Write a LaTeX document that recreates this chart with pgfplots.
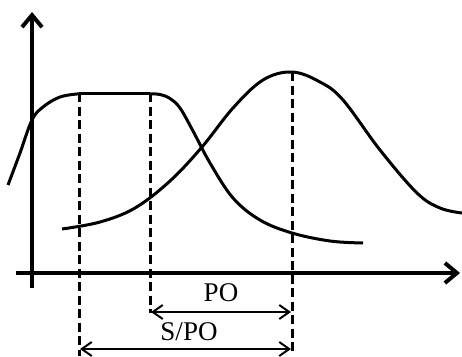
\documentclass[border=0pt]{standalone}
\usepackage{fontspec}
\setmainfont{Liberation Serif}
\usepackage{pgfplots}
\pgfplotsset{compat=1.18}
\usetikzlibrary{arrows.meta}
\begin{document}
\begin{tikzpicture}
\begin{axis}[
  scale only axis, width=462pt, height=356pt,
  xmin=0, xmax=462, ymin=0, ymax=356, y dir=reverse,
  hide axis, clip=false,
]
% axes
\addplot[line width=4pt, -{Straight Barb[length=12pt,width=20pt,line width=4pt]}] coordinates {(32,288) (32,12)};
\addplot[line width=4pt, -{Straight Barb[length=12pt,width=20pt,line width=4pt]}] coordinates {(16,273) (460,273)};
% curve 1 (plateau)
\addplot[line width=3pt, smooth, tension=0.6] coordinates {
(8,185) (20,153) (32,120) (43,107) (60,97) (79,93.8)};
\addplot[line width=3pt] coordinates {(79,93.8) (150,93.8)};
\addplot[line width=3pt, smooth, tension=0.6] coordinates {
(150,93.8) (160,94.5) (170,98.5) (180,108) (193,131) (210,163) (233,198) (260,220) (292,233) (330,241) (363,243)};
% curve 2 (bell)
\addplot[line width=3pt, smooth, tension=0.6] coordinates {
(62,229) (100,222) (135,208) (170,181) (202,147) (233,108) (263,80) (292,72) (320,82) (343,100) (380,150) (417,193) (440,208) (462,213)};
% dashed verticals
\addplot[line width=3pt, dash pattern=on 9pt off 4.5pt] coordinates {(79,93) (79,356)};
\addplot[line width=3pt, dash pattern=on 9pt off 4.5pt] coordinates {(150,93) (150,313)};
\addplot[line width=3pt, dash pattern=on 9pt off 4.5pt] coordinates {(292,72) (292,354)};
% dimension arrows
\addplot[line width=2pt, {Straight Barb[length=10pt,width=14pt,line width=2pt]}-{Straight Barb[length=10pt,width=14pt,line width=2pt]}] coordinates {(151,312) (291,312)};
\addplot[line width=2pt, {Straight Barb[length=10pt,width=14pt,line width=2pt]}-{Straight Barb[length=10pt,width=14pt,line width=2pt]}] coordinates {(80,349) (291,349)};
\node[anchor=base, font=\fontsize{27}{30}\selectfont, inner sep=0pt] at (axis cs:221,301) {PO};
\node[anchor=base, font=\fontsize{27}{30}\selectfont, inner sep=0pt] at (axis cs:189,340) {S/PO};
\end{axis}
\pgfresetboundingbox
\path[use as bounding box] (current axis.south west) rectangle (current axis.north east);
\end{tikzpicture}
\end{document}
